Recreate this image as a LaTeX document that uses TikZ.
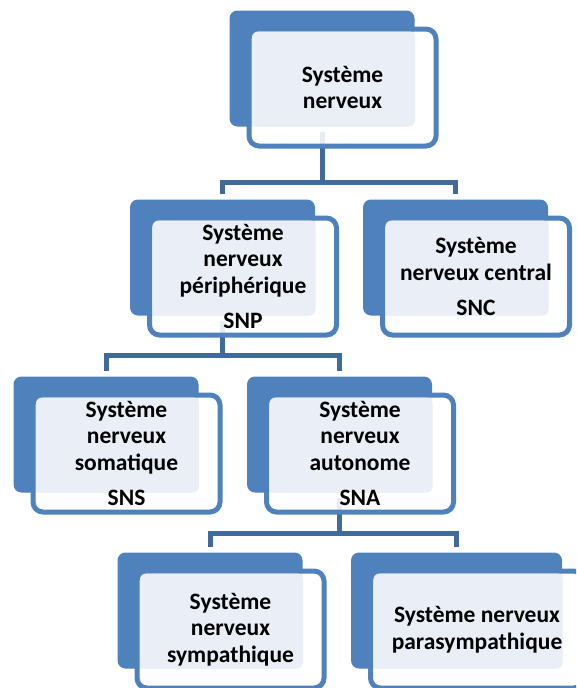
\documentclass[tikz,border=0pt]{standalone}
\usepackage{fontspec}
\setmainfont{Carlito}
\usepackage{xcolor}
\definecolor{boxblue}{HTML}{4F81BD}
\definecolor{lineblue}{HTML}{3F6A9B}
\definecolor{lightblue}{HTML}{E9EEF7}

\begin{document}
\begin{tikzpicture}[x=1pt,y=-1pt]
					\tikzstyle{back} = [rectangle,rounded corners=8pt,fill=boxblue,inner sep=0pt,minimum width=185pt,minimum height=116pt]
					\tikzstyle{front} = [rectangle,rounded corners=10pt,draw=boxblue,line width=5pt,fill=white,fill opacity=0.88,inner sep=0pt,minimum width=187pt,minimum height=117pt]
					\tikzstyle{light} = [rectangle,rounded corners=6pt,fill=lightblue,inner sep=0pt,minimum width=163pt,minimum height=95pt]
					\tikzstyle{txt} = [align=center,inner sep=0pt,font=\bfseries\fontsize{23.5}{26.5}\selectfont]
					\tikzstyle{edge} = [draw=lineblue,line width=5pt,shorten <=5pt,shorten >=5pt]
					\useasboundingbox (0,0) rectangle (576,688);
					\clip (0,0) rectangle (576,688);
					\coordinate (j1) at (322,182);
					\coordinate (j2) at (222.5,355);
					\coordinate (j3) at (339.5,533);
					\node[back] (b1) at (322,68.5) {};
					\node[back] (b2) at (222.5,257.5) {};
					\node[back] (b3) at (455.5,257.5) {};
					\node[back] (b4) at (106,434.5) {};
					\node[back] (b5) at (339.5,434.5) {};
					\node[back] (b6) at (210,610.5) {};
					\node[back,minimum width=211pt] (b7) at (456.5,610.5) {};
					\draw[edge,shorten >=0pt] (b1.south) -- (j1);
					\draw[edge] (b2.north) |- (j1) -| (b3.north);
					\draw[edge,shorten >=0pt] (b2.south) -- (j2);
					\draw[edge] (b4.north) |- (j2) -| (b5.north);
					\draw[edge,shorten >=0pt] (b5.south) -- (j3);
					\draw[edge] (b6.north) |- (j3) -| (b7.north);
					\node[front] (f1) at (342.5,87.5) {};
					\node[front] (f2) at (243,276.5) {};
					\node[front] (f3) at (476,276.5) {};
					\node[front] (f4) at (126.5,453.5) {};
					\node[front] (f5) at (360,453.5) {};
					\node[front] (f6) at (230.5,629.5) {};
					\node[front,minimum width=213pt] (f7) at (477,629.5) {};
					\node[light] (l1) at (333.5,79) {};
					\node[light] (l2) at (234,268) {};
					\node[light] (l3) at (467,268) {};
					\node[light] (l4) at (117.5,445) {};
					\node[light] (l5) at (351,445) {};
					\node[light] (l6) at (221.5,621) {};
					\node[light,minimum width=189pt] (l7) at (468,621) {};
					\node[txt] (t1) at (f1) {Système\\nerveux};
					\node[txt] (t2) at (f2) {Système\\nerveux\\périphérique\\[9pt]SNP};
					\node[txt] (t3) at (f3) {Système\\nerveux central\\[9pt]SNC};
					\node[txt] (t4) at (f4) {Système\\nerveux\\somatique\\[9pt]SNS};
					\node[txt] (t5) at (f5) {Système\\nerveux\\autonome\\[9pt]SNA};
					\node[txt] (t6) at (f6) {Système\\nerveux\\sympathique};
					\node[txt] (t7) at (f7) {Système nerveux\\parasympathique};
\end{tikzpicture}
\end{document}
